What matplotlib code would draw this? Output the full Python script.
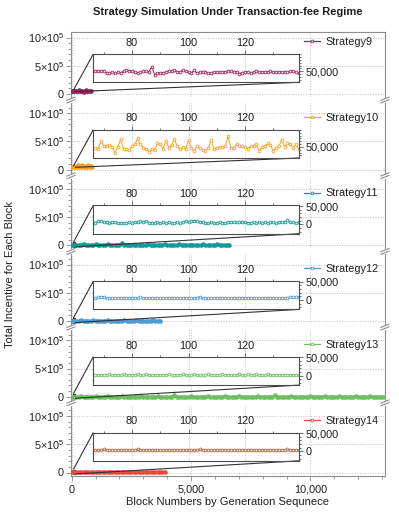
import numpy as np
import matplotlib.pyplot as plt
from matplotlib.ticker import MultipleLocator, FixedLocator, FuncFormatter
from matplotlib.lines import Line2D
from mpl_toolkits.axes_grid1.inset_locator import mark_inset

plt.rcParams['font.family'] = ['Liberation Sans', 'DejaVu Sans']
plt.rcParams['mathtext.fontset'] = 'custom'
plt.rcParams['mathtext.rm'] = 'Liberation Sans'
plt.rcParams['mathtext.it'] = 'Liberation Sans:italic'
plt.rcParams['mathtext.bf'] = 'Liberation Sans:bold'

######## data (values in thousands)

names = ['Strategy9', 'Strategy10', 'Strategy11', 'Strategy12', 'Strategy13', 'Strategy14']
colors = ['#A3205E', '#F9A11B', '#12999A', '#4D9BD5', '#6CC05E', '#F0473C']

# zoomed blocks 67..139
zoom_x = np.arange(67, 140)

zoom9 = [50.0, 50.1, 50.3, 50.5, 49.0, 48.6, 49.2, 49.0, 49.3, 48.8,
         50.0, 51.2, 50.5, 50.4, 49.6, 49.0, 49.5, 50.2, 50.0, 49.8,
         53.2, 47.6, 48.9, 48.5, 48.7, 49.6, 50.3, 50.2, 50.6, 49.8,
         49.4, 51.1, 49.9, 49.2, 48.9, 50.6, 48.6, 49.7, 49.3, 49.8,
         48.5, 48.9, 49.5, 49.2, 49.4, 49.6, 49.8, 50.1, 50.0, 49.4,
         49.7, 48.4, 49.0, 49.8, 49.3, 48.7, 49.6, 49.9, 49.2, 49.7,
         49.6, 49.8, 49.9, 49.3, 49.7, 49.5, 49.2, 49.8, 49.6, 49.9,
         50.0, 49.4, 48.7]
zoom10 = [49.5, 48.5, 54.0, 50.5, 50.8, 51.5, 50.2, 45.8, 50.0, 55.5,
          48.8, 48.5, 47.8, 50.5, 52.0, 56.0, 52.0, 49.5, 48.5, 46.5,
          48.5, 47.8, 52.5, 51.8, 48.5, 54.5, 49.5, 51.2, 55.5, 50.5,
          48.5, 50.0, 48.5, 55.0, 49.5, 46.8, 50.8, 49.5, 48.2, 47.5,
          49.0, 55.0, 48.5, 49.5, 50.0, 50.0, 50.5, 57.5, 49.5, 49.3,
          52.0, 50.5, 50.5, 50.0, 48.5, 50.5, 51.0, 52.0, 47.0, 50.0,
          50.8, 52.5, 51.2, 47.2, 49.2, 50.5, 55.2, 50.0, 52.8, 51.8,
          49.0, 52.0, 48.5]
zoom11 = [4.0, 7.5, 8.5, 7.0, 5.0, 4.5, 5.5, 5.0, 4.5, 4.5,
          4.0, 4.5, 5.0, 4.5, 6.5, 5.5, 8.0, 6.5, 9.5, 4.5,
          4.0, 4.5, 5.0, 4.5, 5.5, 4.0, 5.0, 4.5, 4.5, 5.5,
          4.5, 6.0, 8.5, 5.0, 9.0, 10.0, 8.0, 5.5, 5.0, 4.5,
          4.5, 5.0, 4.5, 4.5, 5.0, 4.5, 4.5, 5.0, 5.5, 5.0,
          5.0, 7.0, 5.5, 5.0, 4.5, 4.5, 5.0, 4.5, 5.0, 4.5,
          5.0, 4.5, 5.5, 5.0, 4.5, 5.5, 5.0, 7.0, 10.5, 5.0,
          5.0, 4.5, 5.0]
zoom12 = [6.0, 7.5, 8.0, 7.5, 5.5, 5.5, 5.5, 5.5, 5.5, 5.5,
          5.5, 5.5, 5.5, 5.5, 5.5, 6.0, 8.0, 6.0, 5.5, 5.5,
          5.5, 5.5, 5.5, 5.5, 5.5, 5.5, 5.5, 5.5, 5.5, 5.5,
          5.5, 5.5, 5.5, 5.5, 5.5, 5.5, 6.0, 8.5, 6.0, 5.5,
          5.5, 5.5, 5.5, 5.5, 5.5, 5.5, 5.5, 5.5, 5.5, 5.5,
          5.5, 5.5, 5.5, 5.5, 5.5, 5.5, 5.5, 5.5, 5.5, 5.5,
          5.5, 5.5, 5.5, 5.5, 5.5, 5.5, 5.5, 5.5, 6.0, 7.0,
          7.5, 7.5, 7.0]
zoom13 = [2.0, 2.0, 2.0, 2.0, 2.0, 4.0, 2.0, 2.0, 2.0, 2.5,
          4.0, 2.0, 2.0, 2.0, 2.5, 4.0, 2.0, 2.0, 4.5, 2.0,
          2.0, 2.0, 2.0, 2.0, 2.0, 2.5, 4.5, 2.0, 2.0, 2.0,
          2.0, 4.0, 2.0, 2.0, 2.0, 4.0, 2.0, 2.0, 2.0, 2.0,
          4.5, 2.0, 2.0, 2.0, 2.0, 4.0, 2.0, 2.0, 2.0, 2.0,
          2.5, 4.5, 2.0, 2.0, 4.0, 2.0, 2.0, 4.5, 2.0, 2.0,
          2.0, 4.0, 2.0, 2.0, 2.0, 2.0, 2.0, 2.0, 2.0, 2.0,
          2.0, 2.0, 2.0]
zoom14 = [3.0, 3.0, 3.0, 5.5, 3.0, 3.0, 3.0, 3.0, 3.0, 3.0,
          3.0, 3.0, 3.0, 3.0, 3.0, 5.5, 3.0, 3.0, 3.0, 3.0,
          3.0, 3.0, 3.0, 3.0, 3.0, 3.0, 3.0, 3.0, 3.0, 3.0,
          3.0, 3.0, 3.0, 3.0, 3.0, 3.0, 3.0, 5.5, 3.0, 3.0,
          3.0, 3.0, 3.0, 3.0, 3.0, 3.0, 3.0, 3.0, 3.0, 3.0,
          3.0, 3.0, 3.0, 3.0, 3.0, 3.0, 3.0, 3.0, 3.0, 3.0,
          3.0, 3.0, 3.0, 3.0, 3.0, 3.0, 3.0, 3.0, 5.5, 3.0,
          3.0, 3.0, 3.0]

# whole runs, one value every `main_step` blocks
main_step = [50, 50, 100, 100, 100, 100]
main9 = [52, 48, 61, 45, 55, 50, 66, 47, 53, 58, 44, 51, 63, 49, 56, 46, 52]
main10 = [50, 44, 72, 47, 55, 80, 46, 58, 49, 85, 45, 53, 62, 48, 75, 50, 57, 52]
main11 = [5, 4, 9, 5, 6, 30, 5, 4, 7, 5, 18, 5, 6, 4, 5, 25, 6, 5, 4, 8,
          5, 35, 5, 6, 4, 5, 12, 5, 7, 4, 6, 5, 28, 5, 4, 6, 5, 9, 5, 20,
          6, 4, 5, 7, 5, 32, 5, 4, 6, 5, 15, 5, 6, 4, 5, 22, 5, 7, 4, 5,
          6, 18, 5, 4, 6, 5, 8]
main12 = [6, 5, 7, 5, 22, 6, 5, 6, 5, 14, 6, 5, 7, 5, 6, 25, 5, 6, 5, 7,
          6, 5, 12, 6, 5, 6, 5, 20, 6, 5, 7, 5, 6, 5, 15, 6, 5, 6]
main13 = [2, 3, 2, 2, 18, 2, 3, 2, 2, 2, 12, 2,
          3, 2, 2, 22, 2, 2, 3, 2, 2, 15, 2, 2,
          2, 3, 2, 2, 2, 20, 2, 3, 2, 2, 2, 2,
          14, 2, 2, 3, 2, 2, 2, 25, 2, 2, 3, 2,
          2, 2, 16, 2, 3, 2, 2, 2, 2, 19, 2, 2,
          3, 2, 2, 2, 12, 2, 2, 3, 2, 2, 22, 2,
          2, 3, 2, 2, 2, 2, 17, 2, 2, 3, 2, 2,
          2, 24, 2, 2, 3, 2, 2, 2, 13, 2, 2, 3,
          2, 2, 2, 2, 20, 2, 3, 2, 2, 2, 15, 2,
          2, 3, 2, 2, 18, 2, 2, 2, 3, 2, 2, 21,
          2, 2, 3, 2, 2, 14, 2, 2, 2, 3, 2, 2]
main14 = [3, 3, 4, 3, 10, 3, 3, 4, 3, 3, 8, 3, 4, 3, 3, 12, 3, 3, 4, 3,
          3, 3, 9, 3, 4, 3, 3, 3, 11, 3, 3, 4, 3, 3, 7, 3, 3, 4, 3, 3]

zooms = [zoom9, zoom10, zoom11, zoom12, zoom13, zoom14]
mains = [main9, main10, main11, main12, main13, main14]

######## layout (pixels)
W, H = 399, 513
L, R = 71, 385
fig = plt.figure(figsize=(W / 100, H / 100), dpi=100)

def fx(p):
    return p / W

def fy(p):
    return 1 - p / H

pxu = 56.5 / 1e6          # pixels per unit in main panels
spine_c = '0.55'
txt_c = '0.12'
fs = 7.8
ms = 2.0

comma = FuncFormatter(lambda v, p: f'{v:,.0f}')

def ylab(v, p):
    if v == 0:
        return '0'
    return r'$%d{\times}10^{5}$' % round(v / 1e5)

for k in range(6):
    y0 = 94 + 75.7 * k
    top = 32 if k == 0 else y0 - 66.7
    bot = y0 + 3
    ax = fig.add_axes([fx(L), fy(bot), fx(R - L), (bot - top) / H])
    c = colors[k]

    # whole run: blocks are so dense the open markers merge into a solid band
    xs = np.arange(len(mains[k])) * main_step[k]
    ax.plot(xs, np.array(mains[k]) * 1000, color=c, lw=1.4, marker='o', ms=ms + 0.6,
            mfc=c, mec=c, mew=0.6, zorder=3)

    ax.set_xlim(-30, 13120)
    ax.set_ylim(-(bot - y0) / pxu, (y0 - top) / pxu)

    ax.set_xticks([0, 5000, 10000])
    ax.xaxis.set_minor_locator(MultipleLocator(1000))
    ax.xaxis.set_major_formatter(comma)
    ax.yaxis.set_major_locator(FixedLocator([0, 5e5, 1e6]))
    ax.yaxis.set_minor_locator(MultipleLocator(1e5))
    ax.yaxis.set_major_formatter(FuncFormatter(ylab))
    ax.grid(True, which='major', ls=':', color='0.75', lw=0.7)
    ax.set_axisbelow(True)

    for s in ax.spines.values():
        s.set_color(spine_c)
        s.set_linewidth(0.8)
    ax.spines['top'].set_visible(k == 0)
    ax.spines['bottom'].set_visible(k == 5)

    ax.tick_params(which='both', direction='out', color=spine_c, labelcolor=txt_c,
                   labelsize=fs, width=0.6, right=False, top=False)
    ax.tick_params(which='major', length=3.5, pad=1.5)
    ax.tick_params(which='minor', length=2)
    if k < 5:
        ax.tick_params(axis='x', which='both', bottom=False, labelbottom=False)
    else:
        ax.tick_params(axis='x', which='major', pad=3)

    # legend
    h = Line2D([], [], color=c, lw=0.9, marker='o', ms=ms, mfc='white', mec=c, mew=0.6)
    ax.legend([h], [names[k]], loc='center left', bbox_to_anchor=(fx(304), fy(y0 - 52)),
              bbox_transform=fig.transFigure, frameon=False, fontsize=fs,
              handlelength=1.5, handletextpad=0.45, borderpad=0, borderaxespad=0,
              numpoints=1, labelcolor=txt_c)

    # inset
    ib, it = y0 - 11.7, y0 - 40
    axin = fig.add_axes([fx(93.3), fy(ib), fx(299 - 93.3), (ib - it) / H], zorder=4)
    axin.plot(zoom_x, np.array(zooms[k]) * 1000, color=c, lw=0.7, marker='o', ms=ms,
              mfc='white', mec=c, mew=0.6)
    axin.set_xlim(66.3, 139.1)
    if k < 2:
        axin.set_ylim(42200, 62200)
        axin.yaxis.set_minor_locator(MultipleLocator(2000))
    else:
        axin.set_ylim(-26000, 51700)
        axin.yaxis.set_minor_locator(MultipleLocator(10000))
    axin.yaxis.set_major_locator(FixedLocator([0, 50000]))
    axin.yaxis.set_major_formatter(comma)
    axin.set_xticks([80, 100, 120])
    axin.xaxis.set_minor_locator(MultipleLocator(10))
    axin.xaxis.tick_top()
    axin.yaxis.tick_right()
    for s in axin.spines.values():
        s.set_color('0.3')
        s.set_linewidth(0.8)
    axin.tick_params(which='both', direction='out', color='0.35', labelcolor=txt_c,
                     labelsize=fs, width=0.6)
    axin.tick_params(which='major', length=3, pad=1.5)
    axin.tick_params(which='minor', length=1.6)
    ext = (ib - top) / (ib - it)
    for gx in [80, 100, 120]:
        axin.axvline(gx, 0, ext, ls=':', color='0.78', lw=0.7, clip_on=False, zorder=0)

    mark_inset(ax, axin, loc1=2, loc2=4, fc='none', ec='0.2', lw=0.8)

    # axis break marks
    if k < 5:
        yc = y0 + 6
        for xb in (L, R):
            for d in (-1.3, 1.3):
                fig.add_artist(Line2D([fx(xb - 4), fx(xb + 4)],
                                      [fy(yc + d + 1.6), fy(yc + d - 1.6)],
                                      color=spine_c, lw=0.8))

fig.text(fx(228), fy(12), 'Strategy Simulation Under Transaction-fee Regime',
         ha='center', va='center', fontsize=8, fontweight='bold', color=txt_c)
fig.text(fx(228), fy(502), 'Block Numbers by Generation Sequnece',
         ha='center', va='center', fontsize=8, color=txt_c)
fig.text(fx(10), fy(274), 'Total Incentive for Each Block', rotation=90,
         ha='center', va='center', fontsize=8, color=txt_c)

fig.savefig('out.png', dpi=100)
